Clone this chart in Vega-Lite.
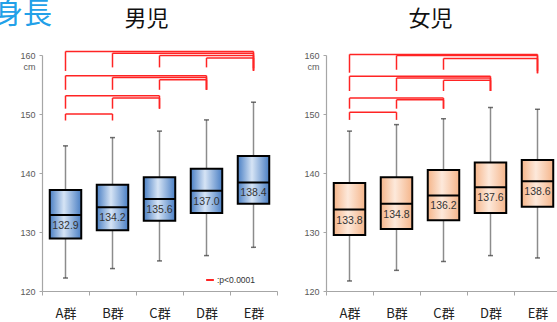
{
  "$schema": "https://vega.github.io/schema/vega-lite/v6.json",
  "padding": {"left": -6, "top": 0, "right": 0, "bottom": 0},
  "background": "white",
  "title": {"text": "身長", "anchor": "start", "frame": "group", "fontSize": 29, "font": "Noto Sans CJK JP", "fontWeight": "normal", "color": "#22a0e8", "dx": -48, "offset": -22},
  "config": {"view": {"stroke": null}, "font": "Noto Sans CJK JP"},
  "spacing": 25,
  "resolve": {"legend": {"color": "independent"}},
  "datasets": {
    "boys": [
      {"group": "A群", "low": 122.2, "q1": 128.9, "median": 132.9, "q3": 137.1, "high": 144.6},
      {"group": "B群", "low": 123.8, "q1": 130.3, "median": 134.2, "q3": 138.0, "high": 146.0},
      {"group": "C群", "low": 125.1, "q1": 131.9, "median": 135.6, "q3": 139.3, "high": 147.1},
      {"group": "D群", "low": 126.0, "q1": 133.2, "median": 137.0, "q3": 140.7, "high": 149.0},
      {"group": "E群", "low": 127.4, "q1": 134.8, "median": 138.4, "q3": 142.9, "high": 152.0}
    ],
    "girls": [
      {"group": "A群", "low": 121.7, "q1": 129.5, "median": 133.8, "q3": 138.3, "high": 147.1},
      {"group": "B群", "low": 123.5, "q1": 130.5, "median": 134.8, "q3": 139.3, "high": 148.2},
      {"group": "C群", "low": 125.0, "q1": 132.0, "median": 136.2, "q3": 140.5, "high": 149.2},
      {"group": "D群", "low": 126.0, "q1": 133.2, "median": 137.6, "q3": 141.8, "high": 151.1},
      {"group": "E群", "low": 125.6, "q1": 134.3, "median": 138.6, "q3": 142.2, "high": 150.8}
    ],
    "boysSig": [
      {"from": "A群", "to": "B群", "top": 150.0, "b1": 148.9, "b2": 148.9, "sig": ":p<0.0001"},
      {"from": "A群", "to": "C群", "top": 153.1, "b1": 150.9, "b2": 150.9, "sig": ":p<0.0001"},
      {"from": "B群", "to": "C群", "top": 152.7, "b1": 150.9, "b2": 150.9, "sig": ":p<0.0001"},
      {"from": "A群", "to": "D群", "top": 156.5, "b1": 154.1, "b2": 154.1, "sig": ":p<0.0001"},
      {"from": "B群", "to": "D群", "top": 156.2, "b1": 154.1, "b2": 154.1, "sig": ":p<0.0001"},
      {"from": "C群", "to": "D群", "top": 155.8, "b1": 154.1, "b2": 154.1, "sig": ":p<0.0001"},
      {"from": "A群", "to": "E群", "top": 160.6, "b1": 157.3, "b2": 157.3, "sig": ":p<0.0001"},
      {"from": "B群", "to": "E群", "top": 160.3, "b1": 157.9, "b2": 157.3, "sig": ":p<0.0001"},
      {"from": "C群", "to": "E群", "top": 159.9, "b1": 157.9, "b2": 157.5, "sig": ":p<0.0001"},
      {"from": "D群", "to": "E群", "top": 159.5, "b1": 157.9, "b2": 157.8, "sig": ":p<0.0001"}
    ],
    "girlsSig": [
      {"from": "A群", "to": "B群", "top": 150.3, "b1": 149.0, "b2": 149.0, "sig": ":p<0.0001"},
      {"from": "A群", "to": "C群", "top": 152.7, "b1": 150.9, "b2": 150.9, "sig": ":p<0.0001"},
      {"from": "B群", "to": "C群", "top": 152.4, "b1": 150.9, "b2": 150.9, "sig": ":p<0.0001"},
      {"from": "A群", "to": "D群", "top": 156.4, "b1": 153.9, "b2": 153.9, "sig": ":p<0.0001"},
      {"from": "B群", "to": "D群", "top": 156.1, "b1": 153.9, "b2": 153.9, "sig": ":p<0.0001"},
      {"from": "C群", "to": "D群", "top": 155.7, "b1": 153.9, "b2": 153.9, "sig": ":p<0.0001"},
      {"from": "A群", "to": "E群", "top": 160.1, "b1": 157.0, "b2": 156.9, "sig": ":p<0.0001"},
      {"from": "B群", "to": "E群", "top": 159.9, "b1": 157.5, "b2": 156.9, "sig": ":p<0.0001"},
      {"from": "C群", "to": "E群", "top": 159.4, "b1": 157.5, "b2": 157.3, "sig": ":p<0.0001"}
    ]
  },
  "hconcat": [
    {
      "title": {"text": "男児", "fontSize": 22, "fontWeight": "normal", "color": "#111", "dx": -13, "offset": 20},
      "width": 235,
      "height": 236,
      "encoding": {
        "x": {"field": "group", "type": "nominal", "sort": ["A群", "B群", "C群", "D群", "E群"],
              "scale": {"domain": ["A群", "B群", "C群", "D群", "E群"], "paddingInner": 0, "paddingOuter": 0},
              "axis": {"title": null, "labelAngle": 0, "labelFontSize": 13, "labelColor": "#222", "labelPadding": 12, "tickBand": "extent", "tickSize": 4, "tickColor": "#a6a6a6", "domainColor": "#a6a6a6", "domainWidth": 1.2}}
      },
      "layer": [
        {
          "data": {"name": "boys"},
          "mark": {"type": "rule", "color": "#8c8c8c", "strokeWidth": 1.5},
          "encoding": {
            "y": {"field": "low", "type": "quantitative", "scale": {"domain": [120, 160], "nice": false, "zero": false},
                  "axis": {"title": null, "values": [120, 130, 140, 150, 160], "grid": false, "labelFontSize": 9, "labelColor": "#595959", "labelFont": "Liberation Sans", "labelPadding": 4, "tickColor": "#a6a6a6", "domainColor": "#a6a6a6", "domainWidth": 1.2, "tickSize": 3,
                           "labelExpr": "datum.value == 160 ? ['160\u00a0\u00a0\u00a0', 'cm'] : datum.label + '\u00a0\u00a0\u00a0'"}},
            "y2": {"field": "high"}
          }
        },
        {
          "data": {"name": "boys"},
          "mark": {"type": "tick", "color": "#333", "size": 5, "thickness": 1.5},
          "encoding": {"y": {"field": "low", "type": "quantitative"}}
        },
        {
          "data": {"name": "boys"},
          "mark": {"type": "tick", "color": "#333", "size": 5, "thickness": 1.5},
          "encoding": {"y": {"field": "high", "type": "quantitative"}}
        },
        {
          "data": {"name": "boys"},
          "mark": {"type": "bar", "width": {"band": 0.67}, "stroke": "#000", "strokeWidth": 2,
                   "fill": {"gradient": "linear", "x1": 0, "x2": 1, "y1": 0, "y2": 0, "stops": [{"offset": 0, "color": "#4a7fc4"}, {"offset": 0.45, "color": "#d6e4f5"}, {"offset": 1, "color": "#4a7fc4"}]}},
          "encoding": {"y": {"field": "q1", "type": "quantitative"}, "y2": {"field": "q3"}}
        },
        {
          "data": {"name": "boys"},
          "mark": {"type": "bar", "width": {"band": 0.67}, "stroke": "#000", "strokeWidth": 2, "fill": null},
          "encoding": {"y": {"field": "median", "type": "quantitative"}, "y2": {"field": "median"}}
        },
        {
          "data": {"name": "boys"},
          "mark": {"type": "text", "fontSize": 10.5, "color": "#333", "dy": 11, "font": "Liberation Sans"},
          "encoding": {"y": {"field": "median", "type": "quantitative"}, "text": {"field": "median", "type": "quantitative", "format": ".1f"}}
        },
        {
          "data": {"name": "boysSig"},
          "mark": {"type": "rule", "strokeWidth": 1.5},
          "encoding": {
            "x": {"field": "from", "type": "nominal"},
            "x2": {"field": "to"},
            "y": {"field": "top", "type": "quantitative"},
            "color": {"field": "sig", "type": "nominal", "scale": {"range": ["#ff2424"]},
                      "legend": {"title": null, "orient": "none", "legendX": 163, "legendY": 220, "symbolType": "stroke", "symbolStrokeWidth": 2, "symbolStrokeColor": "#f08080", "symbolSize": 60, "labelFontSize": 8.5, "labelColor": "#333", "labelFont": "Liberation Sans", "padding": 0, "labelOffset": 2}}
          }
        },
        {
          "data": {"name": "boysSig"},
          "mark": {"type": "rule", "strokeWidth": 1.5},
          "encoding": {
            "x": {"field": "from", "type": "nominal"},
            "y": {"field": "b1", "type": "quantitative"},
            "y2": {"field": "top"},
            "color": {"field": "sig", "type": "nominal"}
          }
        },
        {
          "data": {"name": "boysSig"},
          "mark": {"type": "rule", "strokeWidth": 1.5},
          "encoding": {
            "x": {"field": "to", "type": "nominal"},
            "y": {"field": "b2", "type": "quantitative"},
            "y2": {"field": "top"},
            "color": {"field": "sig", "type": "nominal"}
          }
        }
      ]
    },
    {
      "title": {"text": "女児", "fontSize": 22, "fontWeight": "normal", "color": "#111", "dx": -13, "offset": 20},
      "width": 235,
      "height": 236,
      "encoding": {
        "x": {"field": "group", "type": "nominal", "sort": ["A群", "B群", "C群", "D群", "E群"],
              "scale": {"domain": ["A群", "B群", "C群", "D群", "E群"], "paddingInner": 0, "paddingOuter": 0},
              "axis": {"title": null, "labelAngle": 0, "labelFontSize": 13, "labelColor": "#222", "labelPadding": 12, "tickBand": "extent", "tickSize": 4, "tickColor": "#a6a6a6", "domainColor": "#a6a6a6", "domainWidth": 1.2}}
      },
      "layer": [
        {
          "data": {"name": "girls"},
          "mark": {"type": "rule", "color": "#8c8c8c", "strokeWidth": 1.5},
          "encoding": {
            "y": {"field": "low", "type": "quantitative", "scale": {"domain": [120, 160], "nice": false, "zero": false},
                  "axis": {"title": null, "values": [120, 130, 140, 150, 160], "grid": false, "labelFontSize": 9, "labelColor": "#595959", "labelFont": "Liberation Sans", "labelPadding": 4, "tickColor": "#a6a6a6", "domainColor": "#a6a6a6", "domainWidth": 1.2, "tickSize": 3,
                           "labelExpr": "datum.value == 160 ? ['160\u00a0\u00a0\u00a0', 'cm'] : datum.label + '\u00a0\u00a0\u00a0'"}},
            "y2": {"field": "high"}
          }
        },
        {
          "data": {"name": "girls"},
          "mark": {"type": "tick", "color": "#333", "size": 5, "thickness": 1.5},
          "encoding": {"y": {"field": "low", "type": "quantitative"}}
        },
        {
          "data": {"name": "girls"},
          "mark": {"type": "tick", "color": "#333", "size": 5, "thickness": 1.5},
          "encoding": {"y": {"field": "high", "type": "quantitative"}}
        },
        {
          "data": {"name": "girls"},
          "mark": {"type": "bar", "width": {"band": 0.67}, "stroke": "#000", "strokeWidth": 2,
                   "fill": {"gradient": "linear", "x1": 0, "x2": 1, "y1": 0, "y2": 0, "stops": [{"offset": 0, "color": "#f5b58a"}, {"offset": 0.45, "color": "#fde9db"}, {"offset": 1, "color": "#f5b58a"}]}},
          "encoding": {"y": {"field": "q1", "type": "quantitative"}, "y2": {"field": "q3"}}
        },
        {
          "data": {"name": "girls"},
          "mark": {"type": "bar", "width": {"band": 0.67}, "stroke": "#000", "strokeWidth": 2, "fill": null},
          "encoding": {"y": {"field": "median", "type": "quantitative"}, "y2": {"field": "median"}}
        },
        {
          "data": {"name": "girls"},
          "mark": {"type": "text", "fontSize": 10.5, "color": "#333", "dy": 11, "font": "Liberation Sans"},
          "encoding": {"y": {"field": "median", "type": "quantitative"}, "text": {"field": "median", "type": "quantitative", "format": ".1f"}}
        },
        {
          "data": {"name": "girlsSig"},
          "mark": {"type": "rule", "strokeWidth": 1.5, "color": "#ff2424"},
          "encoding": {
            "x": {"field": "from", "type": "nominal"},
            "x2": {"field": "to"},
            "y": {"field": "top", "type": "quantitative"}
          }
        },
        {
          "data": {"name": "girlsSig"},
          "mark": {"type": "rule", "strokeWidth": 1.5, "color": "#ff2424"},
          "encoding": {
            "x": {"field": "from", "type": "nominal"},
            "y": {"field": "b1", "type": "quantitative"},
            "y2": {"field": "top"}
          }
        },
        {
          "data": {"name": "girlsSig"},
          "mark": {"type": "rule", "strokeWidth": 1.5, "color": "#ff2424"},
          "encoding": {
            "x": {"field": "to", "type": "nominal"},
            "y": {"field": "b2", "type": "quantitative"},
            "y2": {"field": "top"}
          }
        }
      ]
    }
  ]
}
